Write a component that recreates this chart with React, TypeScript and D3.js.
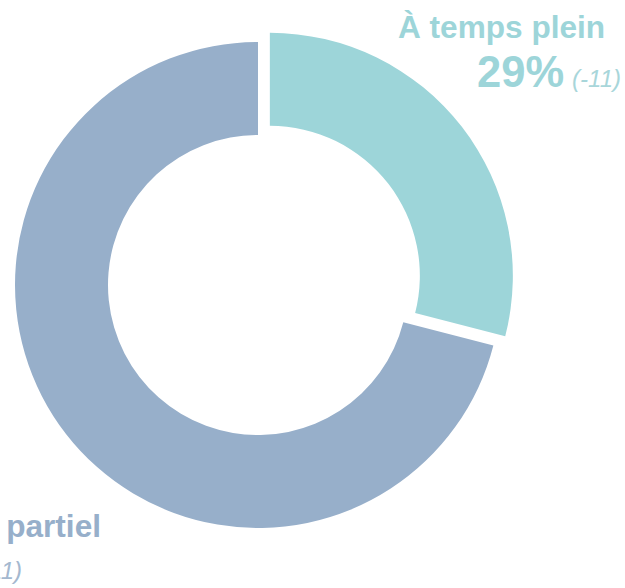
import React from "react";
import * as d3 from "d3";

const categories = ["À temps plein", "À temps partiel"];
const values = [29, 71];
const changes = ["(-11)", "(+11)"];
const colors = ["#9dd5d9", "#97afca"];
const exploded = [true, false];

const W = 625;
const H = 588;
const cx = 258;
const cy = 285;
const outerR = 243;
const innerR = 150;
const offset = 15;

export default function App() {
  const pie = d3.pie<number>().sort(null).value((d) => d);
  const arcs = pie(values);
  const arcGen = d3.arc<d3.PieArcDatum<number>>().innerRadius(innerR).outerRadius(outerR);
  const font = "'Liberation Sans', Arial, sans-serif";

  return (
    <svg
      width={W}
      height={H}
      style={{ position: "absolute", left: 0, top: 0, background: "#fff" }}
      fontFamily={font}
    >
      <g transform={`translate(${cx},${cy})`}>
        {arcs.map((a, i) => {
          const mid = (a.startAngle + a.endAngle) / 2;
          const dx = exploded[i] ? Math.sin(mid) * offset : 0;
          const dy = exploded[i] ? -Math.cos(mid) * offset : 0;
          return (
            <path
              key={i}
              d={arcGen(a) || ""}
              fill={colors[i]}
              transform={`translate(${dx},${dy})`}
            />
          );
        })}
      </g>
      {/* top-right label */}
      <text x={398} y={38} fill={colors[0]} fontWeight="bold" fontSize={31.6}>
        {categories[0]}
      </text>
      <text x={477} y={87} fill={colors[0]}>
        <tspan fontWeight="bold" fontSize={43.5}>{values[0]}%</tspan>
        <tspan fontStyle="italic" fontSize={24} dx={8} fill="#a8d6da">
          {changes[0]}
        </tspan>
      </text>
      {/* bottom-left label */}
      <text x={101} y={537} fill={colors[1]} fontWeight="bold" fontSize={31.6} textAnchor="end">
        {categories[1]}
      </text>
      <text x={22} y={579} fill={colors[1]} textAnchor="end">
        <tspan fontWeight="bold" fontSize={43.5}>{values[1]}%</tspan>
        <tspan fontStyle="italic" fontSize={24} dx={8} fill="#a4b8cf">
          {changes[1]}
        </tspan>
      </text>
    </svg>
  );
}
